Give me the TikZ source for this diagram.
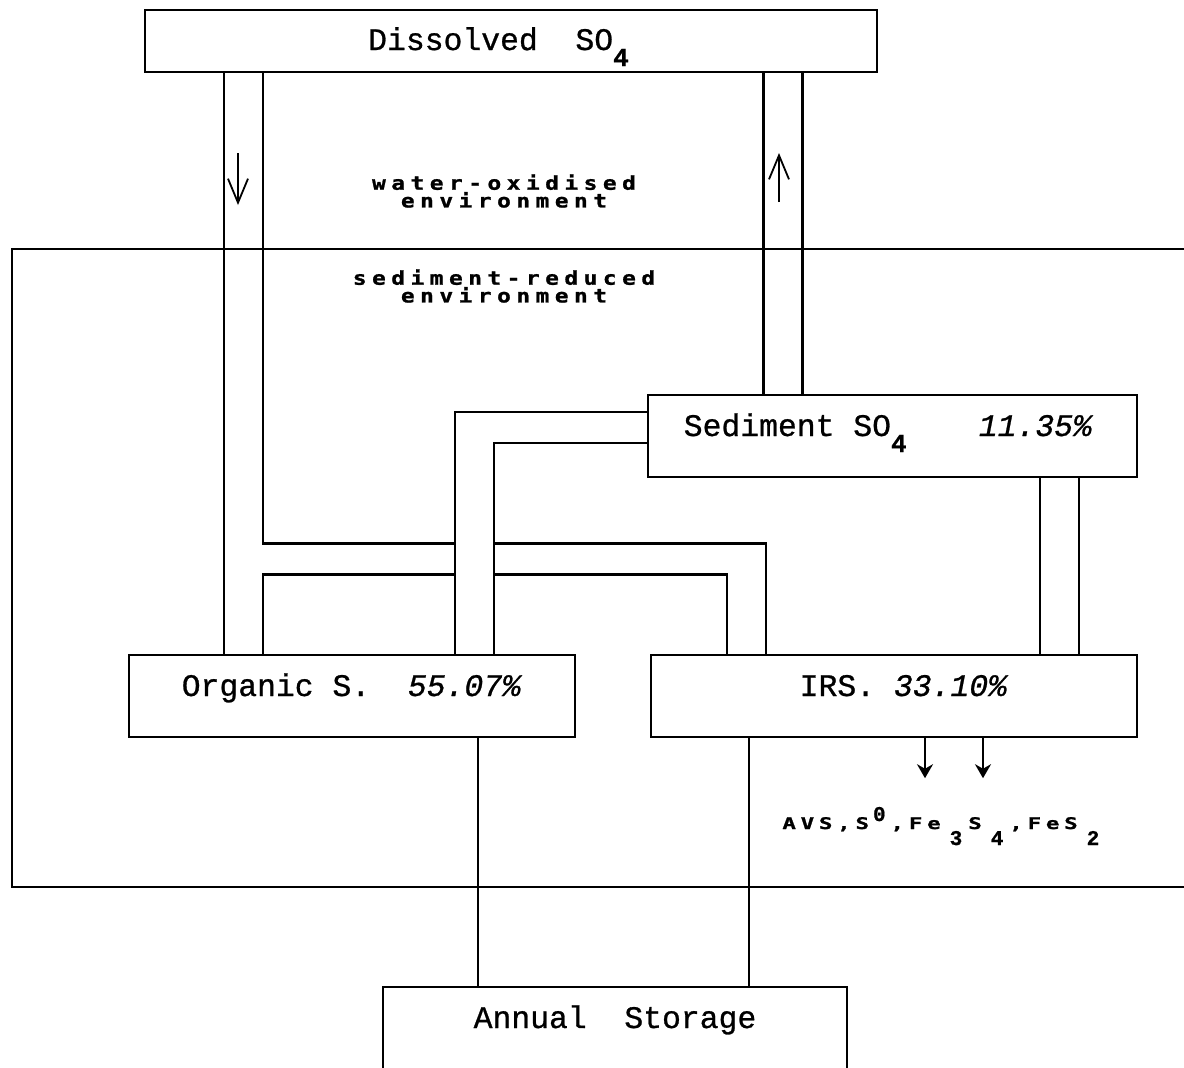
\documentclass[tikz,border=0pt]{standalone}
\usepackage{fontspec}
\usetikzlibrary{arrows.meta,backgrounds}
\newfontfamily\typewr{Liberation Mono}[FakeBold=0.8]
\newfontfamily\envfont{DejaVu Sans Mono}[FakeStretch=1.2,FakeBold=1.2,LetterSpace=29]
\newfontfamily\avsfont{DejaVu Sans Mono}[FakeStretch=1.4,FakeBold=1.2,LetterSpace=30]
\newcommand{\lowdig}[1]{\raisebox{-8pt}{\bfseries\fontsize{13}{12}\selectfont #1}}
\newcommand{\subsm}[1]{\kern4.5pt\raisebox{-8pt}{\typewr\bfseries\fontsize{10.5}{10}\selectfont #1}\kern3pt}
\newcommand{\supsm}[1]{\kern2pt\raisebox{4pt}{\typewr\bfseries\fontsize{10.5}{10}\selectfont #1}\kern2.5pt}

\begin{document}
\begin{tikzpicture}[x=0.5pt, y=-0.5pt,
  box/.style={draw, line width=1.2pt, inner sep=0pt, text height=10pt, text depth=10pt, minimum height=41pt, font=\typewr\fontsize{15.7}{18}\selectfont},
  env/.style={align=center, font=\envfont\bfseries\fontsize{9.5}{7}\selectfont},
  avs/.style={anchor=base west, inner sep=0pt, font=\avsfont\bfseries\fontsize{8}{8}\selectfont},
  rule/.style={line width=1.2pt},
  wallv/.style={line width=20.7pt}, borev/.style={white, line width=18.3pt},
  wallh/.style={line width=16.7pt}, boreh/.style={white, line width=14.3pt},
  flow/.style={-{Straight Barb[length=12pt,width=10pt]}, line width=0.9pt},
  drop/.style={-{Stealth[length=7pt,width=8pt]}, line width=1.2pt}]
\useasboundingbox (0,0) rectangle (1184,1067);

% pools
\node[box, minimum width=366pt, minimum height=31pt, text depth=1pt] (diss) at (511,41) {Dissolved\ \ SO\lowdig{4}\hspace*{12.5pt}};
\node[box, minimum width=244.5pt] (sed) at (892.5,436) {Sediment SO\lowdig{4}\hspace{2.3em}\textit{11.35\%}\hspace*{4pt}};
\node[box, minimum width=223pt] (org) at (352,696) {Organic S.\ \ \textit{55.07\%}};
\node[box, minimum width=243pt] (irs) at (894,696) {\hspace*{10pt}IRS.\ \textit{33.10\%}};
\node[box, minimum width=232pt] (stor) at (615,1028) {Annual\ \ Storage};

% environments
\draw[rule] (1190,249) -- (12,249) -- (12,887) -- (1190,887);
\node[env] (wox) at (504,191) {water-oxidised\\environment};
\node[env] (sred) at (504,286) {sediment-reduced\\environment};

% pipes
\begin{pgfonlayer}{background}
\coordinate (jl) at (243.5,559);
\coordinate (jr) at (746.5,559);
\coordinate (ks) at (474.5,427.5);
\coordinate (rp) at (783,0);
\coordinate (sp) at (1059.5,0);
\draw[wallv] (diss.south -| jl) -- (org.north -| jl);
\draw[wallh] (jl) -- ([xshift=10.35pt]jr);
\draw[wallv] ([yshift=8.35pt]jr) -- (irs.north -| jr);
\draw[borev] (diss.south -| jl) -- (org.north -| jl);
\draw[boreh] (jl) -- ([xshift=9.15pt]jr);
\draw[borev] ([yshift=7.15pt]jr) -- (irs.north -| jr);
\draw[wallh] (sed.west |- ks) -- ([xshift=-10.35pt]ks);
\draw[wallv] ([yshift=8.35pt]ks) -- (org.north -| ks);
\draw[boreh] (sed.west |- ks) -- ([xshift=-9.15pt]ks);
\draw[borev] ([yshift=7.15pt]ks) -- (org.north -| ks);
\draw[wallv] (diss.south -| rp) -- (sed.north -| rp);
\draw[wallv] (sed.south -| sp) -- (irs.north -| sp);
\draw[borev] (diss.south -| rp) -- (sed.north -| rp);
\draw[borev] (sed.south -| sp) -- (irs.north -| sp);
\end{pgfonlayer}
\draw[flow] (238,153) -- (238,205);
\draw[flow] (779,202) -- (779,153);

% storage and iron sulphides
\coordinate (so) at (478,0);
\coordinate (si) at (749,0);
\draw[rule] (org.south -| so) -- (stor.north -| so);
\draw[rule] (irs.south -| si) -- (stor.north -| si);
\coordinate (d1) at (925,0);
\coordinate (d2) at (983,0);
\draw[drop] (irs.south -| d1) -- ++(0,40);
\draw[drop] (irs.south -| d2) -- ++(0,40);
\node[avs] (fes) at (782,829) {AVS,S\supsm{0},Fe\subsm{3}S\subsm{4},FeS\subsm{2}};
\end{tikzpicture}
\end{document}
